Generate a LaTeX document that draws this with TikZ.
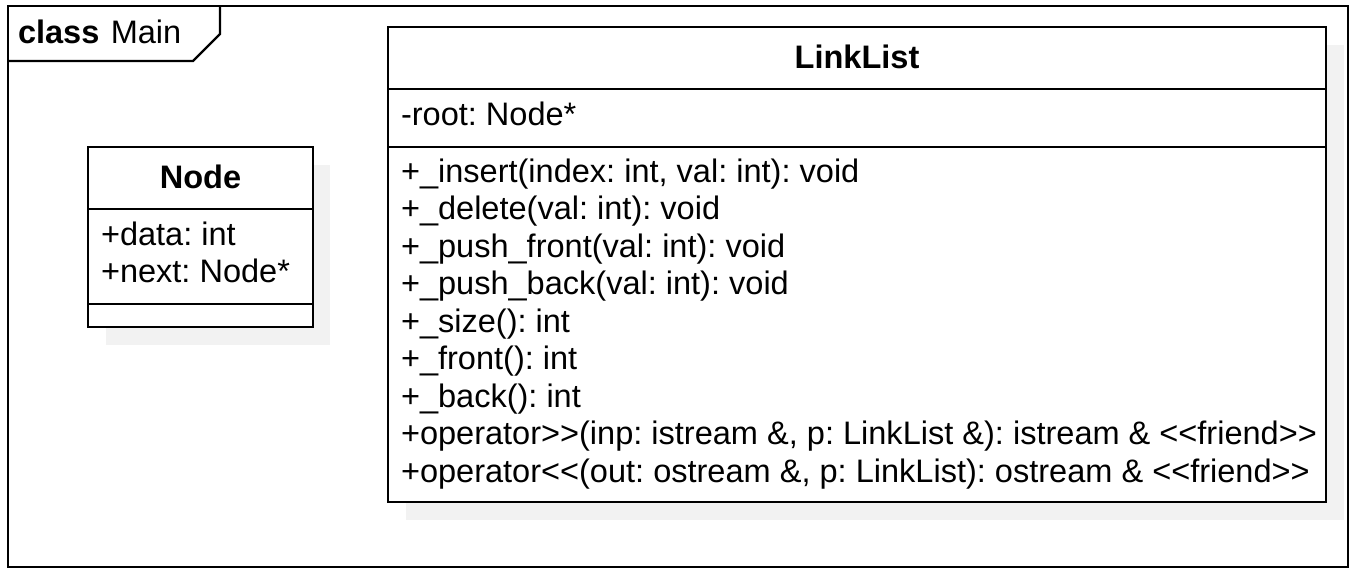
\documentclass[tikz,border=0pt]{standalone}
\usepackage{fontspec}
\setmainfont{Liberation Sans}
\frenchspacing
\begin{document}
\begin{tikzpicture}[x=0.75pt,y=-0.75pt,
  every node/.style={inner sep=0pt,outer sep=0pt,font=\fontsize{24.4}{28}\selectfont},
  ln/.style={draw=black,line width=1.7pt},
  shadow/.style={fill=black!5,draw=none},
  txt/.style={anchor=base west},
  ttl/.style={anchor=base,font=\fontsize{24.4}{28}\selectfont\bfseries}]
\useasboundingbox (0,0) rectangle (1354,576);
\fill[white] (0,0) rectangle (1354,576);
% frame
\draw[ln] (8,6) rectangle (1348,567);
\draw[ln] (8,61) -- (193,61) -- (220,34) -- (220,6);
\node[txt] (framelbl) at (18,43) {\textbf{class}\hspace{0.35em}Main};
% Node class
\fill[shadow] (106,165) rectangle (330,345);
\draw[ln,fill=white] (88,147) rectangle (313,327);
\draw[ln] (88,209) -- (313,209);
\draw[ln] (88,304) -- (313,304);
\node[ttl] (nodeT) at (200.5,188) {Node};
\node[txt] (nodeA1) at (101,245) {+data: int};
\node[txt] (nodeA2) at (101,282) {+next: Node*};
% LinkList class
\fill[shadow] (406,45) rectangle (1344,520);
\draw[ln,fill=white] (388,27) rectangle (1326,502);
\draw[ln] (388,89) -- (1326,89);
\draw[ln] (388,147) -- (1326,147);
\node[ttl] (llT) at (857,68) {LinkList};
\node[txt] (llA) at (401,125) {-root: Node*};
\node[txt] (m1) at (401,182) {+\_insert(index: int, val: int): void};
\node[txt] (m2) at (401,219.5) {+\_delete(val: int): void};
\node[txt] (m3) at (401,257) {+\_push\_front(val: int): void};
\node[txt] (m4) at (401,294.5) {+\_push\_back(val: int): void};
\node[txt] (m5) at (401,332) {+\_size(): int};
\node[txt] (m6) at (401,369.5) {+\_front(): int};
\node[txt] (m7) at (401,407) {+\_back(): int};
\node[txt] (m8) at (401,444.5) {+operator>{}>(inp: istream \&, p: LinkList \&): istream \& <{}<friend>{}>};
\node[txt] (m9) at (401,482) {+operator<{}<(out: ostream \&, p: LinkList): ostream \& <{}<friend>{}>};
\end{tikzpicture}
\end{document}
